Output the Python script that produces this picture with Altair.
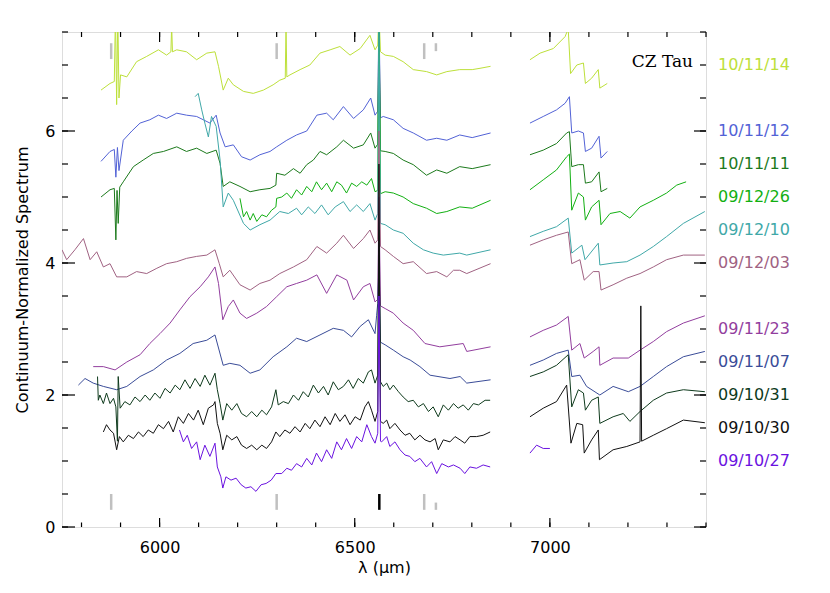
import altair as alt
import pandas as pd

FONT = "DejaVu Sans"

SERIES = ["10/11/14", "10/11/12", "10/11/11", "09/12/26", "09/12/10", "09/12/03",
          "09/11/23", "09/11/07", "09/10/31", "09/10/30", "09/10/27"]
COLORS = ["#bde03a", "#5262d6", "#1c7a1c", "#12b012", "#40a8a8", "#a06282",
          "#923e9e", "#3a4c98", "#0e3a1c", "#111111", "#6a12e0"]
LABEL_Y = [7.0, 6.0, 5.5, 5.0, 4.5, 4.0, 3.0, 2.5, 2.0, 1.5, 1.0]

# ---- spectra (wavelength, flux) ----
L_101114 = [5850, 5873, 5884, 5887, 5890, 5893, 5896, 5900, 5916, 5941, 5967, 5997, 6018, 6029, 6031, 6033,
            6044, 6069, 6095, 6121, 6142, 6151, 6163, 6176, 6189, 6215, 6240, 6266, 6291, 6308, 6322, 6324,
            6326, 6334, 6360, 6385, 6411, 6437, 6462, 6488, 6514, 6539, 6552, 6559, 6562, 6566, 6578, 6599,
            6624, 6650, 6684, 6710, 6736, 6769, 6801, 6821, 6848,
            6949, 6975, 7009, 7039, 7047, 7053, 7069, 7086, 7091, 7107, 7124, 7128, 7147]
F_101114 = [6.62, 6.72, 6.75, 7.8, 6.4, 7.8, 6.5, 6.85, 6.82, 7.05, 7.13, 7.23, 7.15, 7.2, 7.6, 7.2,
            7.23, 7.2, 7.08, 7.18, 7.2, 6.98, 6.62, 6.8, 6.7, 6.6, 6.57, 6.62, 6.7, 6.77, 6.8, 7.6,
            6.82, 6.85, 6.93, 7.0, 7.18, 7.23, 7.28, 7.15, 7.25, 7.45, 7.23, 7.3, 7.8, 7.2, 7.15, 7.13,
            7.05, 6.93, 6.9, 6.85, 6.9, 6.93, 6.93, 6.95, 6.98,
            7.08, 7.18, 7.25, 7.43, 7.55, 6.87, 7.0, 7.03, 6.72, 6.8, 6.93, 6.65, 6.72]

L_101112 = [5850, 5873, 5884, 5888, 5892, 5896, 5907, 5929, 5950, 5975, 5997, 6018, 6044, 6069, 6095, 6112,
            6129, 6145, 6155, 6168, 6189, 6210, 6232, 6257, 6283, 6300, 6326, 6351, 6377, 6403, 6428, 6445,
            6471, 6497, 6522, 6541, 6552, 6559, 6562, 6566, 6573, 6599, 6624, 6650, 6684, 6710, 6736, 6769,
            6801, 6848,
            6949, 6983, 7017, 7039, 7050, 7056, 7073, 7086, 7091, 7107, 7126, 7131, 7147]
F_101112 = [5.54, 5.69, 5.72, 5.3, 5.75, 5.4, 5.86, 6.0, 6.12, 6.17, 6.24, 6.19, 6.27, 6.24, 6.22, 6.17,
            6.12, 6.24, 5.97, 5.76, 5.79, 5.61, 5.56, 5.64, 5.69, 5.76, 5.86, 5.94, 6.0, 6.24, 6.27, 6.17,
            6.37, 6.19, 6.32, 6.5, 6.24, 6.3, 7.8, 6.2, 6.22, 6.17, 6.04, 5.97, 5.86, 5.89, 5.86, 5.94,
            5.9, 5.97,
            6.12, 6.22, 6.32, 6.42, 6.52, 5.97, 6.0, 5.97, 5.69, 5.74, 5.92, 5.59, 5.69]

L_101111 = [5850, 5873, 5884, 5888, 5891, 5894, 5898, 5907, 5933, 5958, 5984, 6010, 6044, 6069, 6095, 6121,
            6145, 6155, 6163, 6180, 6206, 6232, 6257, 6283, 6298, 6300, 6321, 6343, 6360, 6377, 6394, 6411,
            6428, 6454, 6471, 6497, 6522, 6541, 6552, 6559, 6562, 6566, 6578, 6599, 6624, 6650, 6684, 6710,
            6736, 6769, 6801, 6848,
            6949, 6983, 7017, 7043, 7050, 7056, 7073, 7086, 7091, 7107, 7126, 7131, 7147]
F_101111 = [5.0, 5.11, 5.13, 4.35, 5.1, 4.6, 5.15, 5.23, 5.46, 5.56, 5.66, 5.69, 5.76, 5.69, 5.74, 5.66,
            5.71, 5.51, 5.16, 5.23, 5.16, 5.08, 5.11, 5.13, 5.18, 5.36, 5.33, 5.43, 5.36, 5.49, 5.56, 5.69,
            5.64, 5.76, 5.86, 5.74, 5.79, 5.97, 5.74, 5.8, 7.8, 5.7, 5.69, 5.66, 5.56, 5.49, 5.33, 5.41,
            5.36, 5.46, 5.43, 5.49,
            5.64, 5.71, 5.81, 5.97, 5.99, 5.46, 5.49, 5.49, 5.21, 5.23, 5.38, 5.08, 5.13]

L_091226 = [6206, 6215, 6223, 6232, 6240, 6249, 6262, 6274, 6287, 6298, 6300, 6313, 6326, 6338, 6351, 6364,
            6377, 6390, 6402, 6415, 6428, 6441, 6454, 6466, 6479, 6492, 6505, 6518, 6531, 6543, 6552, 6559,
            6562, 6566, 6578, 6599, 6624, 6650, 6684, 6710, 6736, 6769, 6801, 6848,
            6949, 6983, 7017, 7043, 7050, 7056, 7073, 7086, 7091, 7107, 7126, 7131, 7154, 7180, 7205, 7231,
            7265, 7299, 7325, 7349]
F_091226 = [4.98, 4.7, 4.78, 4.65, 4.75, 4.63, 4.73, 4.7, 4.8, 4.85, 4.98, 5.0, 5.06, 4.98, 5.11, 5.03,
            5.16, 5.08, 5.23, 5.11, 5.21, 5.08, 5.23, 5.18, 5.06, 5.21, 5.16, 5.23, 5.18, 5.28, 5.08, 5.1,
            7.8, 5.05, 5.08, 5.06, 5.0, 4.9, 4.83, 4.75, 4.78, 4.85, 4.83, 4.95,
            5.11, 5.26, 5.41, 5.61, 5.65, 4.8, 5.06, 5.0, 4.65, 4.85, 4.95, 4.58, 4.75, 4.78, 4.68, 4.85,
            4.95, 5.06, 5.18, 5.23]

L_091210 = [6091, 6099, 6108, 6116, 6125, 6133, 6145, 6155, 6163, 6176, 6189, 6215, 6232, 6257, 6283, 6308,
            6330, 6351, 6364, 6381, 6398, 6415, 6432, 6450, 6471, 6488, 6505, 6522, 6539, 6552, 6559, 6562,
            6566, 6578, 6599, 6624, 6650, 6676, 6701, 6727, 6769, 6787, 6848,
            6949, 6983, 7017, 7047, 7056, 7082, 7090, 7124, 7128, 7162, 7197, 7231, 7265, 7299, 7342, 7397]
F_091210 = [6.52, 6.57, 6.32, 6.12, 5.91, 6.22, 6.07, 5.56, 4.85, 5.06, 4.95, 4.6, 4.5, 4.58, 4.65, 4.78,
            4.75, 4.83, 4.73, 4.85, 4.75, 4.88, 4.73, 4.85, 4.93, 4.78, 4.88, 4.78, 4.9, 4.65, 4.75, 7.8,
            4.6, 4.58, 4.5, 4.45, 4.3, 4.2, 4.15, 4.12, 4.15, 4.12, 4.2,
            4.4, 4.48, 4.55, 4.68, 4.15, 4.27, 4.05, 4.3, 3.97, 4.0, 4.02, 4.12, 4.25, 4.4, 4.6, 4.78]

L_091203 = [5750, 5762, 5783, 5805, 5822, 5839, 5856, 5873, 5890, 5916, 5941, 5967, 5993, 6018, 6044, 6069,
            6095, 6121, 6142, 6153, 6163, 6180, 6206, 6232, 6257, 6283, 6308, 6343, 6377, 6403, 6428, 6454,
            6471, 6497, 6522, 6539, 6552, 6559, 6562, 6566, 6578, 6599, 6624, 6650, 6684, 6710, 6736, 6753,
            6769, 6787, 6848,
            6949, 6983, 7017, 7047, 7056, 7077, 7088, 7111, 7126, 7131, 7162, 7197, 7231, 7265, 7299, 7342, 7397]
F_091203 = [4.2, 4.05, 4.2, 4.37, 4.05, 4.17, 3.94, 3.99, 3.79, 3.79, 3.87, 3.84, 3.92, 3.99, 4.02, 4.07,
            4.1, 4.12, 4.2, 3.99, 3.79, 3.89, 3.67, 3.59, 3.69, 3.74, 3.84, 3.94, 4.05, 4.25, 4.15, 4.3,
            4.42, 4.22, 4.37, 4.5, 4.3, 4.35, 6.0, 4.25, 4.2, 4.1, 3.99, 4.02, 3.84, 3.87, 3.79, 3.89,
            3.89, 3.84, 3.99,
            4.27, 4.35, 4.42, 4.47, 3.99, 4.05, 3.74, 3.87, 3.87, 3.59, 3.67, 3.77, 3.84, 3.94, 4.05, 4.12, 4.12]

L_091123 = [5830, 5856, 5886, 5916, 5950, 5975, 6001, 6027, 6052, 6078, 6104, 6125, 6142, 6151, 6162, 6176,
            6189, 6206, 6223, 6249, 6274, 6300, 6326, 6351, 6377, 6403, 6428, 6454, 6480, 6497, 6522, 6539,
            6552, 6559, 6562, 6566, 6578, 6599, 6624, 6650, 6680, 6718, 6778, 6787, 6848,
            6949, 6983, 7017, 7047, 7056, 7077, 7088, 7111, 7126, 7128, 7162, 7201, 7231, 7265, 7299, 7342, 7397]
F_091123 = [2.43, 2.43, 2.38, 2.5, 2.61, 2.78, 2.93, 3.09, 3.29, 3.49, 3.64, 3.79, 3.94, 3.69, 3.14, 3.34,
            3.44, 3.24, 3.16, 3.24, 3.34, 3.49, 3.64, 3.69, 3.74, 3.82, 3.54, 3.82, 3.74, 3.44, 3.64, 3.69,
            3.41, 3.45, 5.0, 3.35, 3.31, 3.24, 3.09, 2.98, 2.78, 2.73, 2.78, 2.66, 2.73,
            2.88, 2.98, 3.06, 3.19, 2.68, 2.78, 2.56, 2.66, 2.73, 2.45, 2.56, 2.56, 2.68, 2.81, 2.96, 3.09, 3.2]

L_091107 = [5792, 5809, 5830, 5856, 5890, 5916, 5950, 5984, 6018, 6052, 6086, 6121, 6142, 6163, 6180, 6206,
            6232, 6257, 6291, 6326, 6351, 6377, 6411, 6445, 6471, 6492, 6514, 6535, 6552, 6556, 6559, 6562,
            6566, 6578, 6599, 6624, 6642, 6667, 6693, 6744, 6770, 6787, 6848,
            6949, 6983, 7017, 7047, 7056, 7077, 7094, 7128, 7162, 7201, 7231, 7265, 7299, 7342, 7397]
F_091107 = [2.15, 2.25, 2.18, 2.13, 2.08, 2.13, 2.28, 2.38, 2.53, 2.63, 2.78, 2.83, 2.91, 2.45, 2.48, 2.45,
            2.33, 2.38, 2.58, 2.73, 2.86, 2.81, 2.91, 3.01, 2.98, 2.88, 3.04, 3.14, 2.93, 3.2, 3.39, 4.0,
            2.8, 2.76, 2.68, 2.58, 2.53, 2.43, 2.3, 2.25, 2.28, 2.18, 2.23,
            2.45, 2.53, 2.63, 2.68, 2.28, 2.3, 2.13, 2.0, 2.13, 2.05, 2.13, 2.28, 2.43, 2.58, 2.66]

L_091031 = [5841, 5843, 5847, 5856, 5864, 5873, 5882, 5888, 5892, 5894, 5899, 5911, 5924, 5937, 5950, 5963,
            5975, 5988, 6001, 6014, 6027, 6040, 6052, 6065, 6078, 6091, 6104, 6116, 6129, 6142, 6148, 6155,
            6162, 6172, 6185, 6198, 6210, 6223, 6236, 6249, 6262, 6274, 6287, 6298, 6304, 6317, 6330, 6343,
            6356, 6368, 6381, 6394, 6407, 6420, 6432, 6445, 6458, 6471, 6484, 6496, 6509, 6522, 6535, 6543,
            6552, 6559, 6562, 6566, 6573, 6582, 6590, 6599, 6612, 6624, 6637, 6650, 6663, 6676, 6689, 6701,
            6714, 6727, 6740, 6753, 6765, 6778, 6791, 6804, 6817, 6834, 6847,
            6949, 6983, 7017, 7047, 7056, 7073, 7086, 7091, 7107, 7124, 7128, 7162, 7188, 7205, 7231, 7265,
            7299, 7342, 7397]
F_091031 = [2.28, 1.92, 2.0, 1.87, 2.03, 1.87, 1.95, 1.82, 1.3, 2.28, 1.8, 1.9, 1.85, 1.97, 1.9, 2.0,
            1.92, 2.03, 1.95, 2.1, 2.03, 2.15, 2.08, 2.23, 2.1, 2.25, 2.13, 2.3, 2.15, 2.33, 2.08, 1.87,
            1.62, 1.87, 1.77, 1.87, 1.72, 1.67, 1.75, 1.67, 1.77, 1.7, 1.82, 2.08, 1.85, 1.9, 1.87, 2.0,
            1.92, 2.05, 1.97, 2.15, 2.03, 2.13, 2.0, 2.2, 2.08, 2.13, 2.23, 2.1, 2.25, 2.18, 2.35, 2.38,
            2.18, 2.3, 4.5, 2.2, 2.13, 2.18, 2.08, 2.15, 2.05, 1.97, 1.9, 1.92, 1.82, 1.87, 1.75, 1.82,
            1.67, 1.85, 1.77, 1.87, 1.8, 1.85, 1.77, 1.87, 1.85, 1.92, 1.92,
            2.28, 2.35, 2.45, 2.61, 1.82, 2.08, 2.03, 1.77, 1.92, 1.97, 1.57, 1.67, 1.72, 1.6, 1.75, 1.92,
            2.03, 2.08, 2.05]

L_091030 = [5856, 5864, 5873, 5882, 5890, 5897, 5907, 5920, 5933, 5946, 5958, 5971, 5984, 5997, 6010, 6023,
            6035, 6048, 6061, 6074, 6087, 6099, 6112, 6125, 6138, 6142, 6148, 6155, 6162, 6172, 6185, 6198,
            6210, 6223, 6236, 6249, 6262, 6274, 6287, 6298, 6308, 6321, 6334, 6347, 6360, 6373, 6385, 6398,
            6411, 6424, 6437, 6450, 6462, 6475, 6488, 6501, 6514, 6526, 6535, 6543, 6552, 6559, 6562, 6566,
            6573, 6582, 6590, 6603, 6616, 6629, 6641, 6654, 6667, 6680, 6693, 6706, 6714, 6727, 6744, 6757,
            6770, 6782, 6795, 6812, 6829, 6847,
            6949, 6983, 7017, 7043, 7054, 7069, 7084, 7088, 7107, 7124, 7127, 7162, 7197, 7231, 7233, 7235,
            7265, 7299, 7342, 7397]
F_091030 = [1.44, 1.55, 1.47, 1.42, 1.17, 1.37, 1.29, 1.39, 1.34, 1.44, 1.37, 1.47, 1.42, 1.55, 1.49, 1.6,
            1.44, 1.67, 1.57, 1.72, 1.62, 1.77, 1.55, 1.8, 1.85, 1.9, 1.57, 1.42, 1.17, 1.39, 1.32, 1.37,
            1.24, 1.19, 1.24, 1.17, 1.24, 1.19, 1.29, 1.44, 1.37, 1.47, 1.42, 1.52, 1.44, 1.57, 1.49, 1.62,
            1.52, 1.67, 1.55, 1.72, 1.6, 1.7, 1.55, 1.67, 1.62, 1.82, 1.9, 1.77, 1.6, 1.75, 5.5, 1.6,
            1.57, 1.62, 1.49, 1.57, 1.47, 1.39, 1.42, 1.32, 1.39, 1.32, 1.29, 1.34, 1.17, 1.32, 1.29, 1.37,
            1.32, 1.27, 1.37, 1.37, 1.39, 1.44,
            1.67, 1.8, 1.9, 2.15, 1.27, 1.57, 1.55, 1.12, 1.32, 1.47, 1.02, 1.17, 1.22, 1.29, 3.35, 1.3,
            1.39, 1.49, 1.62, 1.58]

L_091027 = [6051, 6061, 6071, 6082, 6095, 6104, 6116, 6129, 6142, 6148, 6157, 6162, 6170, 6183, 6196, 6209,
            6221, 6234, 6247, 6260, 6273, 6286, 6298, 6313, 6326, 6338, 6351, 6364, 6377, 6390, 6402, 6415,
            6428, 6441, 6454, 6466, 6479, 6492, 6505, 6518, 6531, 6543, 6552, 6559, 6562, 6566, 6569, 6582,
            6590, 6603, 6616, 6629, 6641, 6654, 6667, 6684, 6697, 6710, 6723, 6740, 6753, 6770, 6782, 6795,
            6812, 6829, 6847,
            6949, 6966, 6983, 7000]
F_091027 = [1.47, 1.29, 1.39, 1.19, 1.29, 1.02, 1.24, 1.07, 1.27, 0.91, 0.76, 0.59, 0.76, 0.71, 0.74, 0.64,
            0.59, 0.61, 0.54, 0.64, 0.66, 0.71, 0.81, 0.81, 0.89, 0.86, 0.96, 0.91, 1.04, 0.94, 1.12, 0.99,
            1.17, 1.04, 1.29, 1.17, 1.34, 1.19, 1.37, 1.29, 1.55, 1.37, 1.27, 1.42, 3.5, 1.3, 1.29, 1.37,
            1.22, 1.29, 1.17, 1.09, 1.07, 0.99, 1.04, 0.91, 0.99, 0.81, 0.96, 0.91, 0.94, 0.89, 0.81, 0.91,
            0.89, 0.94, 0.91,
            1.12, 1.24, 1.19, 1.19]

LAMS = [L_101114, L_101112, L_101111, L_091226, L_091210, L_091203,
        L_091123, L_091107, L_091031, L_091030, L_091027]
FLUXES = [F_101114, F_101112, F_101111, F_091226, F_091210, F_091203,
          F_091123, F_091107, F_091031, F_091030, F_091027]

# line-identification markers (He I 5876, [O I] 6300, H-alpha, He I 6678, Li I 6708)
TOP_LAM = [5876, 6300, 6678, 6708]
TOP_Y1 = [7.09, 7.09, 7.09, 7.21]
TOP_Y2 = [7.33, 7.33, 7.33, 7.33]
BOT_LAM = [5876, 6300, 6563, 6678, 6708]
BOT_Y1 = [0.26, 0.26, 0.26, 0.26, 0.26]
BOT_Y2 = [0.5, 0.5, 0.5, 0.5, 0.37]
BOT_COL = ["#c0c0c0", "#c0c0c0", "#000000", "#c0c0c0", "#c0c0c0"]

X_MAJOR = [6000, 6500, 7000]
X_MINOR = list(range(5800, 7401, 100))
Y_MAJOR = [0, 2, 4, 6]
Y_MINOR = [i * 0.5 for i in range(16)]

W, H = 644, 495

# ---- build tables ----
rows = []
for name, lam, flux in zip(SERIES, LAMS, FLUXES):
    assert len(lam) == len(flux), name
    for i, (l, f) in enumerate(zip(lam, flux)):
        rows.append({"series": name, "seg": name + ("b" if l > 6900 else "a"),
                     "lam": l, "flux": f, "idx": i})
df = pd.DataFrame(rows)

mk = pd.DataFrame({"lam": TOP_LAM + BOT_LAM, "y1": TOP_Y1 + BOT_Y1, "y2": TOP_Y2 + BOT_Y2,
                   "col": ["#c0c0c0"] * len(TOP_LAM) + BOT_COL})
labs = pd.DataFrame({"name": SERIES, "y": LABEL_Y, "col": COLORS})
cz = pd.DataFrame({"name": ["CZ Tau"], "y": [7.05]})

xs = alt.Scale(domain=[5750, 7400], nice=False, zero=False)
ys = alt.Scale(domain=[0, 7.5], nice=False, zero=True)

# identical axis definitions are shared by every layer so that they merge into one axis
X_AX = dict(orient="bottom", values=X_MAJOR, ticks=False, domain=False, grid=False,
            labelPadding=12, labelFont=FONT, labelFontSize=16, labelColor="black", format="d",
            title="λ (μm)", titleFont=FONT, titleFontSize=16, titleFontWeight="normal",
            titleColor="black", titlePadding=4)
Y_AX = dict(orient="left", values=Y_MAJOR, ticks=False, domain=False, grid=False,
            labelPadding=7, labelFont=FONT, labelFontSize=16, labelColor="black", format="d",
            title="Continuum-Normalized Spectrum", titleFont=FONT, titleFontSize=16,
            titleFontWeight="normal", titleColor="black", titlePadding=14)


def X(field):
    return alt.X(field, scale=xs, axis=alt.Axis(**X_AX))


def Y(field):
    return alt.Y(field, scale=ys, axis=alt.Axis(**Y_AX))


lines = alt.Chart(df).mark_line(strokeWidth=1, clip=True).encode(
    x=X("lam:Q"),
    y=Y("flux:Q"),
    color=alt.Color("series:N", scale=alt.Scale(domain=SERIES, range=COLORS), legend=None),
    detail="seg:N",
    order=alt.Order("idx:Q"),
)

markers = alt.Chart(mk).mark_rule(strokeWidth=2.5).encode(
    x=X("lam:Q"),
    y=Y("y1:Q"),
    y2="y2:Q",
    color=alt.Color("col:N", scale=None),
)


# inward-pointing frame ticks, positioned by the axis scales
def xticks(values, y0, y1):
    return alt.Chart(pd.DataFrame({"v": values})).mark_rule(color="black", strokeWidth=1.2).encode(
        x=X("v:Q"), y=alt.value(y0), y2=alt.value(y1))


def yticks(values, x0, x1):
    return alt.Chart(pd.DataFrame({"v": values})).mark_rule(color="black", strokeWidth=1.2).encode(
        y=Y("v:Q"), x=alt.value(x0), x2=alt.value(x1))


tick_layers = [
    xticks(X_MAJOR, H, H - 9), xticks(X_MINOR, H, H - 4.5),
    xticks(X_MAJOR, 0, 10), xticks(X_MINOR, 0, 5),
    yticks(Y_MAJOR, 0, 13), yticks(Y_MINOR, 0, 6),
    yticks(Y_MAJOR, W, W - 12), yticks(Y_MINOR, W, W - 6),
]

labels = alt.Chart(labs).mark_text(align="left", baseline="middle", font=FONT, fontSize=16).encode(
    x=alt.value(656),
    y=Y("y:Q"),
    text="name:N",
    color=alt.Color("col:N", scale=None),
)
cztext = alt.Chart(cz).mark_text(align="right", baseline="middle", font="DejaVu Serif", fontSize=17,
                                 color="black").encode(
    x=alt.value(631),
    y=Y("y:Q"),
    text="name:N",
)

chart = alt.layer(lines, markers, *tick_layers, labels, cztext).properties(
    width=W, height=H,
    autosize=alt.AutoSizeParams(type="none"),
    padding={"left": 54, "top": 24, "right": 116, "bottom": 50},
).configure_view(stroke="black", strokeWidth=1.5).configure(background="white")

chart.save("out.html", embed_options={"renderer": "svg", "actions": False})
